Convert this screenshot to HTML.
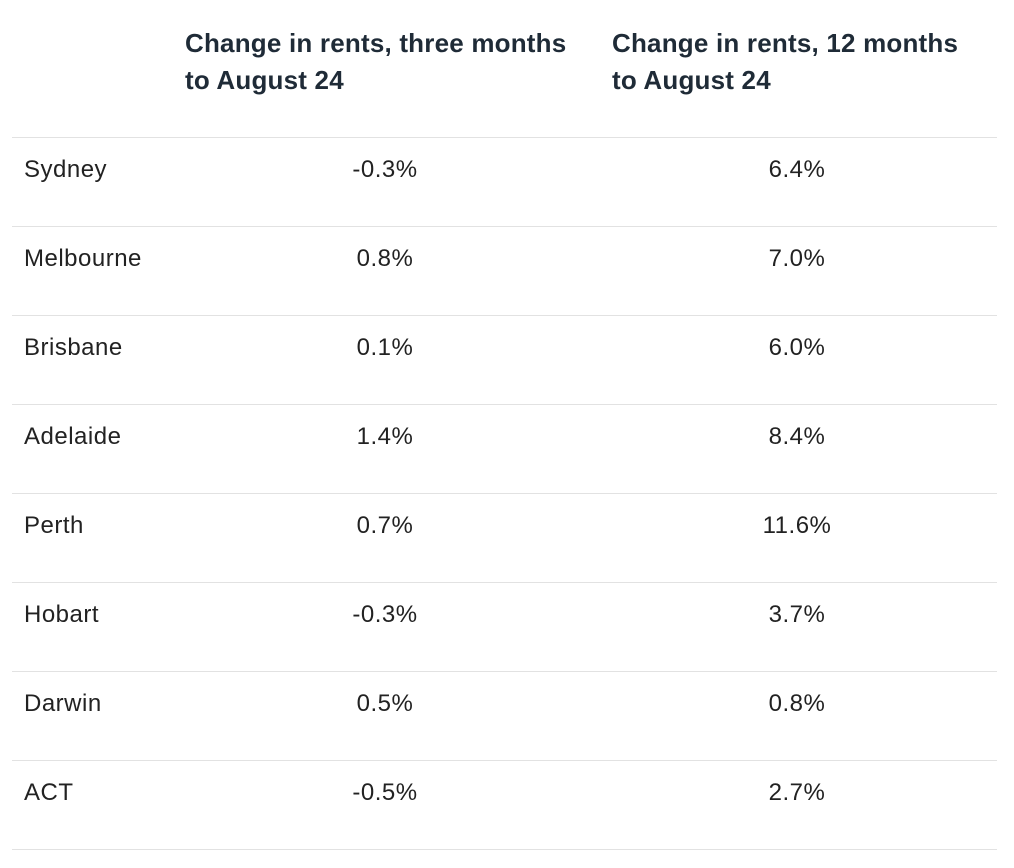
<!DOCTYPE html>
<html><head><meta charset="utf-8"><style>
body{margin:0;width:1014px;height:868px;background:#fff;font-family:"Liberation Sans",sans-serif;position:relative;overflow:hidden}
.h{position:absolute;top:25px;font-weight:bold;font-size:26px;line-height:37px;color:#1f2b37;white-space:nowrap;letter-spacing:0.2px}
.line{position:absolute;left:12px;width:985px;height:1px;background:#e2e2e2}
.c{position:absolute;font-size:24px;color:#222;white-space:nowrap;letter-spacing:0.5px;line-height:30px}
.n{transform:translateX(-50%)}
</style></head><body>
<div class="h" style="left:185px">Change in rents, three months<br>to August 24</div>
<div class="h" style="left:612px">Change in rents, 12 months<br>to August 24</div>
<div id="t"></div>
<script>
const cities=["Sydney","Melbourne","Brisbane","Adelaide","Perth","Hobart","Darwin","ACT"];
const threeMonth=["-0.3%","0.8%","0.1%","1.4%","0.7%","-0.3%","0.5%","-0.5%"];
const twelveMonth=["6.4%","7.0%","6.0%","8.4%","11.6%","3.7%","0.8%","2.7%"];
const t=document.getElementById('t');
const top0=137,rh=89;
function add(cls,style,text,name){const d=document.createElement('div');d.className=cls;d.setAttribute('style',style);if(text)d.textContent=text;


t.appendChild(d);}
for(let i=0;i<=cities.length;i++){add('line','top:'+(top0+i*rh)+'px','', 'row-divider');}
cities.forEach((c,i)=>{const y=top0+i*rh+18;
add('c','left:24px;top:'+y+'px',c,'city-label');
add('c n','left:385px;top:'+y+'px',threeMonth[i],'three-month-value');
add('c n','left:797px;top:'+y+'px',twelveMonth[i],'twelve-month-value');});
</script>
</body></html>
